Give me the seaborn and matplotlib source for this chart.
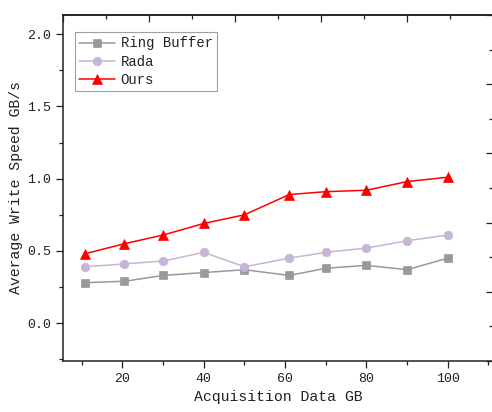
import numpy as np
import pandas as pd
import matplotlib
matplotlib.use("Agg")
import matplotlib.pyplot as plt
from matplotlib.ticker import MultipleLocator, NullFormatter
import seaborn as sns

# data
data_gb = [10.7, 20.5, 30, 40, 50, 61, 70, 80, 90, 100]
ring_buffer = [0.28, 0.29, 0.33, 0.35, 0.37, 0.33, 0.38, 0.40, 0.37, 0.45]
rada = [0.39, 0.41, 0.43, 0.49, 0.39, 0.45, 0.49, 0.52, 0.57, 0.61]
ours = [0.48, 0.55, 0.61, 0.69, 0.75, 0.89, 0.91, 0.92, 0.98, 1.01]

series_names = ["Ring Buffer", "Rada", "Ours"]
series_vals = [ring_buffer, rada, ours]

COLORS = {"Ring Buffer": "#999999", "Rada": "#C6B6D6", "Ours": "#FF0000"}
MARKERS = {"Ring Buffer": "s", "Rada": "o", "Ours": "^"}
MSIZE = {"Ring Buffer": 5.2, "Rada": 6.2, "Ours": 6.6}

sns.set_style("ticks")
plt.rcParams["font.family"] = ["Liberation Mono", "DejaVu Sans Mono"]
TXT = "#222222"

df = pd.DataFrame({
    "x": np.tile(data_gb, len(series_names)),
    "y": np.concatenate(series_vals),
    "series": np.repeat(series_names, len(data_gb)),
})

fig = plt.figure(figsize=(4.92, 4.12), dpi=100)
ax = fig.add_axes([63.3 / 492, 51 / 412, 430 / 492, 346 / 412])

for name in series_names:
    sub = df[df["series"] == name]
    sns.lineplot(data=sub, x="x", y="y", ax=ax, color=COLORS[name],
                 marker=MARKERS[name], markersize=MSIZE[name],
                 markeredgecolor=COLORS[name], markeredgewidth=0.5,
                 linewidth=1.1, label=name)

x0, x1 = 5.45, 111.2
y0, y1 = -0.262, 2.133
ax.set_xlim(x0, x1)
ax.set_ylim(y0, y1)

ax.xaxis.set_major_locator(MultipleLocator(20))
ax.xaxis.set_minor_locator(MultipleLocator(10))
ax.yaxis.set_major_locator(MultipleLocator(0.5))
ax.yaxis.set_minor_locator(MultipleLocator(0.25))
ax.yaxis.set_major_formatter(plt.FuncFormatter(lambda v, p: f"{v:.1f}"))
ax.tick_params(which="major", direction="out", length=5, width=0.9,
               color=TXT, labelsize=9.5, labelcolor=TXT)
ax.tick_params(which="minor", direction="out", length=3, width=0.9, color=TXT)

for s in ax.spines.values():
    s.set_linewidth(1.1)
    s.set_color(TXT)

# top / right decorative tick axes (10 equal divisions)
top = ax.secondary_xaxis("top", functions=(lambda v: (v - x0) / (x1 - x0),
                                           lambda v: x0 + v * (x1 - x0)))
right = ax.secondary_yaxis("right", functions=(lambda v: (v - y0) / (y1 - y0),
                                               lambda v: y0 + v * (y1 - y0)))
for sec in (top, right):
    axis = sec.xaxis if sec is top else sec.yaxis
    axis.set_major_locator(MultipleLocator(0.2))
    axis.set_minor_locator(MultipleLocator(0.1))
    axis.set_major_formatter(NullFormatter())
    sec.tick_params(which="major", direction="in", length=5, width=0.9, color=TXT)
    sec.tick_params(which="minor", direction="in", length=3, width=0.9, color=TXT)
    for s in sec.spines.values():
        s.set_linewidth(1.1)
        s.set_color(TXT)

ax.set_xlabel("Acquisition Data GB", fontsize=10.7, color=TXT, labelpad=4)
ax.set_ylabel("Average Write Speed GB/s", fontsize=10.7, color=TXT, labelpad=3)

leg = ax.legend(loc="upper left", bbox_to_anchor=(0.027, 0.95), fontsize=10,
                frameon=True, fancybox=False, edgecolor="#888888",
                handlelength=2.6, handletextpad=0.4, borderpad=0.3,
                labelspacing=0.3, borderaxespad=0)
leg.get_frame().set_linewidth(0.8)
for t in leg.get_texts():
    t.set_color(TXT)

fig.savefig("out.png", dpi=100, facecolor="white")
